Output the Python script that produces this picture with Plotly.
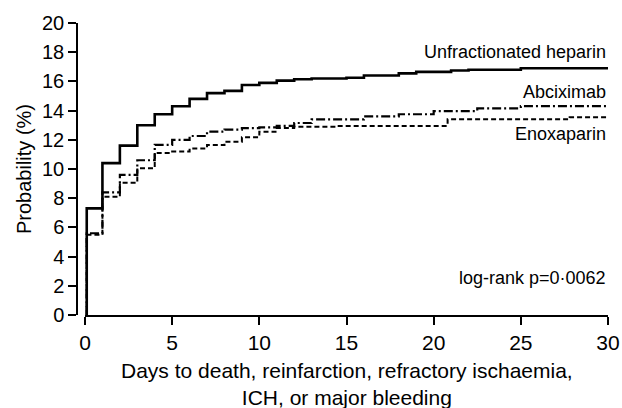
import plotly.graph_objects as go

# ---- data ----
ufh_days = [0.1, 0.1, 1, 2, 3, 4, 5, 6, 7, 8, 9, 10, 11, 12, 13, 15, 16, 18, 19, 21, 22, 25, 30]
ufh_vals = [0, 7.3, 10.4, 11.6, 13.0, 13.75, 14.3, 14.8, 15.2, 15.35, 15.75, 15.9, 16.05, 16.15, 16.2,
            16.25, 16.4, 16.55, 16.65, 16.75, 16.8, 16.9, 16.9]

abc_days = [0.1, 0.1, 1, 2, 3, 4, 5, 6, 7, 8, 9, 10, 11, 12, 13, 16, 18, 20, 22.5, 25, 30]
abc_vals = [0, 5.6, 8.4, 9.6, 10.6, 11.65, 12.0, 12.26, 12.56, 12.7, 12.8, 12.85, 12.95, 13.15, 13.4,
            13.6, 13.75, 13.97, 14.15, 14.3, 14.3]

enox_days = [0.1, 0.1, 1, 2, 3, 4, 5, 6, 7, 8, 9, 10, 11, 12, 14.4, 20.8, 27.8, 30]
enox_vals = [0, 5.5, 8.1, 9.05, 10.05, 11.1, 11.2, 11.4, 11.64, 11.87, 12.17, 12.55, 12.8, 12.9,
             12.95, 13.4, 13.54, 13.54]

series_names = ["Unfractionated heparin", "Abciximab", "Enoxaparin"]
label_y = [18.0, 15.27, 12.4]
logrank_text = "log-rank p=0·0062"
x_title = "Days to death, reinfarction, refractory ischaemia,<br>ICH, or major bleeding"
y_title = "Probability (%)"

x_ticks = [0, 5, 10, 15, 20, 25, 30]
y_ticks = [0, 2, 4, 6, 8, 10, 12, 14, 16, 18, 20]

FONT = "Liberation Sans, Arial, sans-serif"

fig = go.Figure()
fig.add_trace(go.Scatter(x=ufh_days, y=ufh_vals, mode="lines", line_shape="hv",
                         line=dict(color="black", width=2.6), name=series_names[0]))
fig.add_trace(go.Scatter(x=abc_days, y=abc_vals, mode="lines", line_shape="hv",
                         line=dict(color="black", width=2.2, dash="9px,3px,2px,3px"), name=series_names[1]))
fig.add_trace(go.Scatter(x=enox_days, y=enox_vals, mode="lines", line_shape="hv",
                         line=dict(color="black", width=2.0, dash="5px,3px"), name=series_names[2]))

for name, ly in zip(series_names, label_y):
    fig.add_annotation(x=30, y=ly, xref="x", yref="y", text=name, showarrow=False,
                       xanchor="right", yanchor="middle", font=dict(size=18, color="black", family=FONT))
fig.add_annotation(x=30, y=2.55, xref="x", yref="y", text=logrank_text, showarrow=False,
                   xanchor="right", yanchor="middle", font=dict(size=18, color="black", family=FONT))

W, H = 622, 408
ml, mr, mt, mb = 70, 10, 10, 80
pw, ph = W - ml - mr, H - mt - mb

def px_x(p):
    return (p - ml) / pw

def px_y(p):
    return (H - mb - p) / ph

# x-axis title as a paper annotation (two lines, centred under the axis)
fig.add_annotation(x=px_x(347), y=px_y(357), xref="paper", yref="paper", text=x_title,
                   showarrow=False, xanchor="center", yanchor="top",
                   font=dict(size=21, color="black", family=FONT))

fig.update_layout(
    width=W, height=H,
    margin=dict(l=ml, r=mr, t=mt, b=mb, autoexpand=False),
    paper_bgcolor="white", plot_bgcolor="white",
    showlegend=False,
    font=dict(family=FONT, color="black"),
    xaxis=dict(
        range=[0, 30], domain=[px_x(85), px_x(608)],
        anchor="free", position=px_y(316), automargin=False,
        showline=True, linecolor="black", linewidth=1.5,
        ticks="outside", ticklen=8, tickwidth=1.5, tickcolor="black",
        tickvals=x_ticks, ticktext=[str(v) for v in x_ticks],
        tickfont=dict(size=21, family=FONT, color="black"),
        showgrid=False, zeroline=False,
    ),
    yaxis=dict(
        range=[0, 20], domain=[px_y(315), px_y(23)],
        anchor="free", position=px_x(77), automargin=False,
        showline=True, linecolor="black", linewidth=1.5,
        ticks="outside", ticklen=8, tickwidth=1.5, tickcolor="black",
        tickvals=y_ticks, ticktext=[str(v) for v in y_ticks],
        tickfont=dict(size=20, family=FONT, color="black"),
        showgrid=False, zeroline=False,
        title=dict(text=y_title, font=dict(size=20, family=FONT, color="black"), standoff=4),
    ),
)

fig.write_html("out.html", config={"displayModeBar": False},
               post_script="document.body.style.margin='0';document.body.style.overflow='hidden';")
